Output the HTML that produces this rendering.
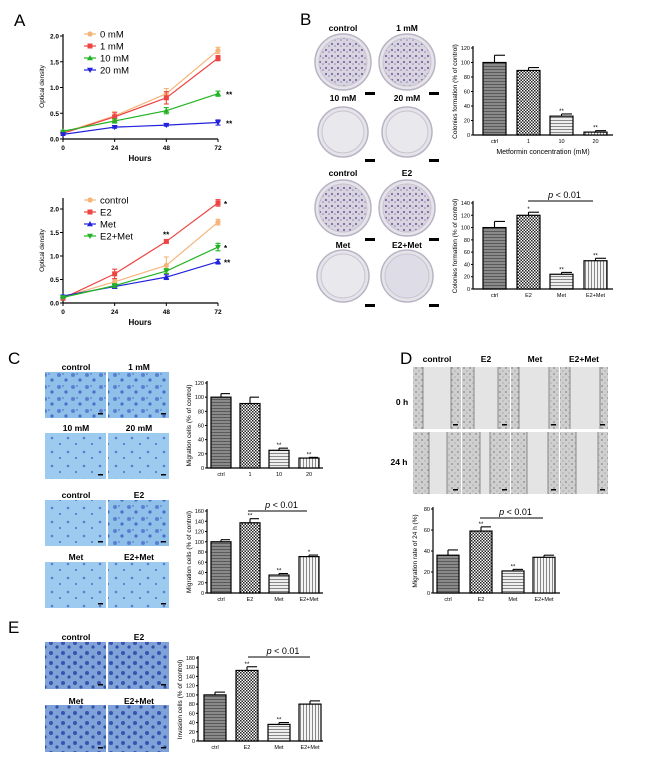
<!DOCTYPE html>
<html><head><meta charset="utf-8"><style>
html,body{margin:0;padding:0;background:#fff;}
svg{display:block;font-family:"Liberation Sans",Arial,sans-serif;}
</style></head><body>
<svg id="fig" width="650" height="760" viewBox="0 0 650 760" xmlns="http://www.w3.org/2000/svg">
<defs>
<pattern id="pCtrl" width="4" height="3" patternUnits="userSpaceOnUse"><rect width="4" height="3" fill="#8a8a8a"/><rect y="0" width="4" height="1" fill="#5a5a5a"/></pattern>
<pattern id="pCheck" width="3" height="3" patternUnits="userSpaceOnUse"><rect width="3" height="3" fill="#fff"/><rect width="1.5" height="1.5" fill="#222"/><rect x="1.5" y="1.5" width="1.5" height="1.5" fill="#222"/></pattern>
<pattern id="pH" width="4" height="3" patternUnits="userSpaceOnUse"><rect width="4" height="3" fill="#eee"/><rect width="4" height="1" fill="#888"/></pattern>
<pattern id="pV" width="3" height="4" patternUnits="userSpaceOnUse"><rect width="3" height="4" fill="#f4f4f4"/><rect width="1" height="4" fill="#888"/></pattern>
<pattern id="pBlue" width="14" height="12" patternUnits="userSpaceOnUse"><rect width="14" height="12" fill="#8fc0ea"/><circle cx="3" cy="3" r="2" fill="#5a7fd0"/><circle cx="10" cy="8" r="1.6" fill="#4c6cc8"/><circle cx="7" cy="2" r="1" fill="#6a8ad6"/></pattern>
<pattern id="pBlueL" width="16" height="14" patternUnits="userSpaceOnUse"><rect width="16" height="14" fill="#9ccbef"/><circle cx="4" cy="4" r="1.3" fill="#5a7fd0"/><circle cx="12" cy="10" r="1" fill="#4c6cc8"/></pattern>
<pattern id="pInv" width="12" height="10" patternUnits="userSpaceOnUse"><rect width="12" height="10" fill="#7fa2d8"/><circle cx="3" cy="3" r="2" fill="#3a52b0"/><circle cx="9" cy="7" r="1.6" fill="#3550a8"/></pattern>
<pattern id="pGray" width="6" height="6" patternUnits="userSpaceOnUse"><rect width="6" height="6" fill="#cfcfcf"/><circle cx="2" cy="2" r="1" fill="#999"/><circle cx="5" cy="5" r="0.8" fill="#aaa"/></pattern>
<pattern id="pPlate" width="6" height="6" patternUnits="userSpaceOnUse"><rect width="6" height="6" fill="#d8d4e0"/><circle cx="2" cy="2" r="1.1" fill="#7a6aa0"/><circle cx="5" cy="4" r="0.8" fill="#9080b0"/></pattern>
</defs>
<g id="root"></g>
</svg>
<script>
// ---------- DATA ----------
const hours = [0, 24, 48, 72];
const aTopNames = ["0 mM", "1 mM", "10 mM", "20 mM"];
const aTop0 = [0.12, 0.45, 0.88, 1.72];
const aTop1 = [0.11, 0.43, 0.80, 1.57];
const aTop10 = [0.15, 0.35, 0.55, 0.88];
const aTop20 = [0.09, 0.23, 0.27, 0.32];
const aTopErr0 = [0.02, 0.08, 0.1, 0.06];
const aTopErr1 = [0.02, 0.08, 0.12, 0.05];
const aTopErr10 = [0.02, 0.04, 0.06, 0.05];
const aTopErr20 = [0.02, 0.02, 0.02, 0.05];
const aBotNames = ["control", "E2", "Met", "E2+Met"];
const aBotCtrl = [0.13, 0.45, 0.80, 1.72];
const aBotE2 = [0.10, 0.62, 1.31, 2.13];
const aBotMet = [0.15, 0.35, 0.55, 0.88];
const aBotE2Met = [0.12, 0.37, 0.68, 1.19];
const aBotErrCtrl = [0.02, 0.05, 0.18, 0.06];
const aBotErrE2 = [0.02, 0.1, 0.03, 0.07];
const aBotErrMet = [0.02, 0.04, 0.05, 0.05];
const aBotErrE2Met = [0.02, 0.04, 0.05, 0.08];
const aTicks = [0.0, 0.5, 1.0, 1.5, 2.0];
const doseCats = ["ctrl", "1", "10", "20"];
const trtCats = ["ctrl", "E2", "Met", "E2+Met"];
const bDose = [100, 89, 26, 4];
const bDoseErr = [10, 4, 3, 2];
const bTrt = [100, 120, 24, 46];
const bTrtErr = [10, 5, 3, 4];
const cDose = [100, 91, 25, 14];
const cDoseErr = [5, 9, 3, 1];
const cTrt = [100, 137, 35, 71];
const cTrtErr = [4, 8, 3, 3];
const dTrt = [36, 59, 21, 34];
const dTrtErr = [5, 4, 1.5, 2];
const eTrt = [100, 153, 36, 80];
const eTrtErr = [6, 8, 4, 7];

// ---------- helpers ----------
const NS = "http://www.w3.org/2000/svg";
const root = document.getElementById("root");
function mk(tag, attrs, parent, txt){
  const e = document.createElementNS(NS, tag);
  for (const k in attrs) e.setAttribute(k, attrs[k]);
  if (txt !== undefined) e.textContent = txt;
  (parent || root).appendChild(e);
  return e;
}
function label(x,y,t,size,opts){
  const o = Object.assign({x:x,y:y,"font-size":size,"text-anchor":"middle",fill:"#000"}, opts||{});
  const e = mk("text", o, null, t);
  
  
  return e;
}
function marker(g, type, x, y, c){
  let e;
  if (type==="circle") e = mk("circle",{cx:x,cy:y,r:2.6,fill:c},g);
  else if (type==="square") e = mk("rect",{x:x-2.5,y:y-2.5,width:5,height:5,fill:c},g);
  else if (type==="tri") e = mk("polygon",{points:`${x},${y-3} ${x-3},${y+2.2} ${x+3},${y+2.2}`,fill:c},g);
  else e = mk("polygon",{points:`${x},${y+3} ${x-3},${y-2.2} ${x+3},${y-2.2}`,fill:c},g);
  
  
}

function lineChart(cfg){
  const x0=63, x1=218;
  const xs = h => x0 + h/72*(x1-x0);
  const ys = v => cfg.y0 - v*(cfg.y0-cfg.y2)/2;
  const g = mk("g",{});
  
  
  mk("line",{x1:x0,y1:cfg.top,x2:x0,y2:cfg.y0,stroke:"#000","stroke-width":1.2},g);
  mk("line",{x1:x0,y1:cfg.y0,x2:x1,y2:cfg.y0,stroke:"#000","stroke-width":1.2},g);
  aTicks.forEach(t=>{
    mk("line",{x1:x0-3,y1:ys(t),x2:x0,y2:ys(t),stroke:"#000"},g);
    const tl = mk("text",{x:x0-4,y:ys(t)+2.5,"font-size":6.5,"text-anchor":"end","font-weight":"bold"},g,t.toFixed(1));
    
    
  });
  hours.forEach(h=>{
    mk("line",{x1:xs(h),y1:cfg.y0,x2:xs(h),y2:cfg.y0+3,stroke:"#000"},g);
    const tl = mk("text",{x:xs(h),y:cfg.y0+11,"font-size":6.5,"text-anchor":"middle","font-weight":"bold"},g,String(h));
    
    
  });
  const xt = mk("text",{x:140,y:cfg.y0+22,"font-size":8,"text-anchor":"middle","font-weight":"bold"},g,"Hours");
  
  
  const yt = mk("text",{x:0,y:0,"font-size":6.5,"text-anchor":"middle",transform:`translate(44,${(cfg.y0+cfg.top)/2}) rotate(-90)`},g,"Optical density");
  
  
  cfg.series.forEach((s,i)=>{
    const sg = mk("g",{},g);
    
    
    mk("polyline",{points:s.v.map((v,j)=>xs(hours[j])+","+ys(v)).join(" "),fill:"none",stroke:s.c,"stroke-width":1.2},sg);
    s.v.forEach((v,j)=>{
      const x=xs(hours[j]), e=s.e[j];
      mk("line",{x1:x,y1:ys(v-e),x2:x,y2:ys(v+e),stroke:s.c,"stroke-width":1.1},sg);
      mk("line",{x1:x-2.5,y1:ys(v+e),x2:x+2.5,y2:ys(v+e),stroke:s.c,"stroke-width":1.1},sg);
      mk("line",{x1:x-2.5,y1:ys(v-e),x2:x+2.5,y2:ys(v-e),stroke:s.c,"stroke-width":1.1},sg);
      marker(sg,s.m,x,ys(v),s.c);
    });
    const ly = cfg.legY + i*12;
    const lg = mk("g",{},g);
    
    
    mk("line",{x1:84,y1:ly,x2:96,y2:ly,stroke:s.c,"stroke-width":1.2},lg);
    marker(lg,s.m,90,ly,s.c);
    mk("text",{x:100,y:ly+3.5,"font-size":9.5},lg,s.label);
  });
  cfg.stars.forEach(st=>{
    const t = mk("text",{x:st.x,y:ys(st.v)+4,"font-size":8,"font-weight":"bold"},g,st.t);
    
    
  });
}

lineChart({name:"chart-a-dose", y0:139, y2:36, top:34, legY:34,
  series:[{label:aTopNames[0],v:aTop0,e:aTopErr0,c:"#f5b57a",m:"circle"},
          {label:aTopNames[1],v:aTop1,e:aTopErr1,c:"#ee4444",m:"square"},
          {label:aTopNames[2],v:aTop10,e:aTopErr10,c:"#22b322",m:"tri"},
          {label:aTopNames[3],v:aTop20,e:aTopErr20,c:"#2222dd",m:"inv"}],
  stars:[{x:226,v:aTop10[3],t:"**"},{x:226,v:aTop20[3],t:"**"}]});
lineChart({name:"chart-a-treatment", y0:303, y2:209, top:198, legY:200,
  series:[{label:aBotNames[0],v:aBotCtrl,e:aBotErrCtrl,c:"#f5b57a",m:"circle"},
          {label:aBotNames[1],v:aBotE2,e:aBotErrE2,c:"#ee4444",m:"square"},
          {label:aBotNames[2],v:aBotMet,e:aBotErrMet,c:"#2222dd",m:"tri"},
          {label:aBotNames[3],v:aBotE2Met,e:aBotErrE2Met,c:"#22b322",m:"inv"}],
  stars:[{x:224,v:aBotE2[3],t:"*"},{x:224,v:aBotE2Met[3],t:"*"},{x:224,v:aBotMet[3],t:"**"},{x:163,v:aBotE2[2]+0.17,t:"**"}]});

const fills = ["url(#pCtrl)","url(#pCheck)","url(#pH)","url(#pV)"];
function barChart(cfg){
  const g = mk("g",{});
  
  
  const ys = v => cfg.y0 - v/cfg.max*(cfg.y0-cfg.ytop);
  mk("line",{x1:cfg.ax,y1:cfg.ytop-2,x2:cfg.ax,y2:cfg.y0,stroke:"#000","stroke-width":1.2},g);
  mk("line",{x1:cfg.ax,y1:cfg.y0,x2:cfg.axEnd,y2:cfg.y0,stroke:"#000","stroke-width":1.2},g);
  for(let t=0;t<=cfg.max;t+=cfg.step){
    mk("line",{x1:cfg.ax-2,y1:ys(t),x2:cfg.ax,y2:ys(t),stroke:"#000"},g);
    const tl = mk("text",{x:cfg.ax-3,y:ys(t)+2,"font-size":5.5,"text-anchor":"end"},g,String(t));
    
    
  }
  const yt = mk("text",{x:0,y:0,"font-size":6.5,"text-anchor":"middle",transform:`translate(${cfg.ax-16},${(cfg.y0+cfg.ytop)/2}) rotate(-90)`},g,cfg.ylabel);
  
  
  cfg.vals.forEach((v,i)=>{
    const bx = cfg.bx[i], w = cfg.bw;
    const b = mk("rect",{x:bx,y:ys(v),width:w,height:cfg.y0-ys(v),fill:fills[i],stroke:"#000","stroke-width":1.2},g);
    
    
    const cx = bx+w/2, top = ys(v+cfg.err[i]);
    mk("line",{x1:cx,y1:ys(v),x2:cx,y2:top,stroke:"#000","stroke-width":1.1},g);
    mk("line",{x1:cx,y1:top,x2:cx+w/2-1,y2:top,stroke:"#000","stroke-width":1.1},g);
    const tl = mk("text",{x:cx,y:cfg.y0+8,"font-size":5.5,"text-anchor":"middle"},g,cfg.cats[i]);
    
    
    if (cfg.stars[i]) {
      const st = mk("text",{x:cx,y:top-1,"font-size":6,"text-anchor":"middle"},g,cfg.stars[i]);
      
      
    }
  });
  if (cfg.p){
    const pl = mk("line",{x1:cfg.p.x1,y1:cfg.p.y,x2:cfg.p.x2,y2:cfg.p.y,stroke:"#000","stroke-width":1},g);
    
    
    const pt = mk("text",{x:(cfg.p.x1+cfg.p.x2)/2+4,y:cfg.p.y-3,"font-size":9,"text-anchor":"middle"},g);
    
    
    mk("tspan",{"font-style":"italic"},pt,"p");
    mk("tspan",{},pt," < 0.01");
  }
  if (cfg.xlabel){
    const xl = mk("text",{x:(cfg.ax+cfg.axEnd)/2,y:cfg.y0+19,"font-size":7,"text-anchor":"middle"},g,cfg.xlabel);
    
    
  }
}
const bXs = [483,517,550,584];
barChart({name:"chart-b-dose",ax:473,axEnd:613,y0:135,ytop:48,max:120,step:20,vals:bDose,err:bDoseErr,cats:doseCats,bx:bXs,bw:23,
  stars:["","","**","**"],ylabel:"Colonies formation (% of control)",xlabel:"Metformin concentration   (mM)"});
barChart({name:"chart-b-treatment",ax:473,axEnd:613,y0:289,ytop:203,max:140,step:20,vals:bTrt,err:bTrtErr,cats:trtCats,bx:bXs,bw:23,
  stars:["","*","**","**"],ylabel:"Colonies formation (% of control)",p:{x1:528,x2:593,y:201}});
const cXs=[211,240,269,299];
barChart({name:"chart-c-dose",ax:207,axEnd:323,y0:468,ytop:383,max:120,step:20,vals:cDose,err:cDoseErr,cats:doseCats,bx:cXs,bw:20,
  stars:["","","**","**"],ylabel:"Migration cells (% of control)"});
barChart({name:"chart-c-treatment",ax:207,axEnd:323,y0:593,ytop:511,max:160,step:20,vals:cTrt,err:cTrtErr,cats:trtCats,bx:cXs,bw:20,
  stars:["","**","**","*"],ylabel:"Migration cells (% of control)",p:{x1:248,x2:307,y:511}});
barChart({name:"chart-d-treatment",ax:433,axEnd:560,y0:593,ytop:509,max:80,step:20,vals:dTrt,err:dTrtErr,cats:trtCats,bx:[437,470,502,533],bw:22,
  stars:["","**","**",""],ylabel:"Migration rate of 24 h (%)",p:{x1:480,x2:543,y:518}});
barChart({name:"chart-e-treatment",ax:198,axEnd:323,y0:741,ytop:658,max:180,step:20,vals:eTrt,err:eTrtErr,cats:trtCats,bx:[204,236,268,299],bw:22,
  stars:["","**","**",""],ylabel:"Invasion cells (% of control)",p:{x1:248,x2:310,y:657}});

// ---------- panel letters ----------
[["A",14,26],["B",300,25],["C",8,364],["D",400,364],["E",8,633]].forEach(p=>{
  const t = label(p[1],p[2],p[0],17,{"text-anchor":"start"});
  
});

// ---------- plates (B) ----------
function plate(cx,cy,r,fill,nm){
  const g = mk("g",{});
  
  
  mk("circle",{cx:cx,cy:cy,r:r,fill:"#e6e4ea",stroke:"#b8b4c4","stroke-width":1.5},g);
  mk("circle",{cx:cx,cy:cy,r:r-4,fill:fill,stroke:"#c8c4d0","stroke-width":1},g);
  mk("rect",{x:cx+22,y:cy+r+2,width:10,height:3,fill:"#000"},g);
}
const dark="url(#pPlate)", light="#e9e8ec";
[["control",343,31,62,28,dark],["1 mM",407,31,62,28,dark],["10 mM",343,101,132,25,light],["20 mM",407,101,132,25,light],
 ["control",343,176,208,28,dark],["E2",407,176,208,28,dark],["Met",343,248,276,26,light],["E2+Met",407,248,276,26,"#dedce6"]].forEach(p=>{
  label(p[1],p[2],p[0],8.5,{"font-weight":"bold"});
  plate(p[1],p[3],p[4],p[5],'colony-plate');
});

// ---------- micrographs ----------
function img(x,y,w,h,fill,nm){
  const r = mk("rect",{x:x,y:y,width:w,height:h,fill:fill});
  
  
  mk("rect",{x:x+w-8,y:y+h-5,width:5,height:1.5,fill:"#000"});
}
[["control","1 mM",370,372,"url(#pBlue)","url(#pBlue)"],["10 mM","20 mM",431,433,"url(#pBlueL)","url(#pBlueL)"],
 ["control","E2",498,500,"url(#pBlueL)","url(#pBlue)"],["Met","E2+Met",560,562,"url(#pBlueL)","url(#pBlueL)"]].forEach(r=>{
  label(76,r[2],r[0],8.5,{"font-weight":"bold"});
  label(139,r[2],r[1],8.5,{"font-weight":"bold"});
  img(45,r[3],61,46,r[4],'migration-image');
  img(108,r[3],61,46,r[5],'migration-image');
});
[["control","E2",640,642],["Met","E2+Met",704,705]].forEach(r=>{
  label(76,r[2],r[0],8.5,{"font-weight":"bold"});
  label(139,r[2],r[1],8.5,{"font-weight":"bold"});
  img(45,r[3],61,47,"url(#pInv)",'invasion-image');
  img(108,r[3],61,47,"url(#pInv)",'invasion-image');
});

// ---------- wound healing (D) ----------
const dCols=[413,462,511,560];
["control","E2","Met","E2+Met"].forEach((n,i)=>label(dCols[i]+24,362,n,8.5,{"font-weight":"bold"}));
label(402,405,"0 h",8.5,{"font-weight":"bold"});
label(399,465,"24 h",8.5,{"font-weight":"bold"});
const gap0=[[10,38],[12,36],[8,38],[10,40]], gap24=[[16,34],[18,28],[16,37],[16,38]];
[[367,gap0],[432,gap24]].forEach(row=>{
  dCols.forEach((x,i)=>{
    const g = mk("g",{});
    
    
    mk("rect",{x:x,y:row[0],width:48,height:62,fill:"url(#pGray)"},g);
    const gp=row[1][i];
    mk("rect",{x:x+gp[0],y:row[0],width:gp[1]-gp[0],height:62,fill:"#e4e4e4"},g);
    mk("line",{x1:x+gp[0],y1:row[0],x2:x+gp[0],y2:row[0]+62,stroke:"#888"},g);
    mk("line",{x1:x+gp[1],y1:row[0],x2:x+gp[1],y2:row[0]+62,stroke:"#888"},g);
    mk("rect",{x:x+40,y:row[0]+57,width:5,height:1.5,fill:"#000"},g);
  });
});
</script>
</body></html>
